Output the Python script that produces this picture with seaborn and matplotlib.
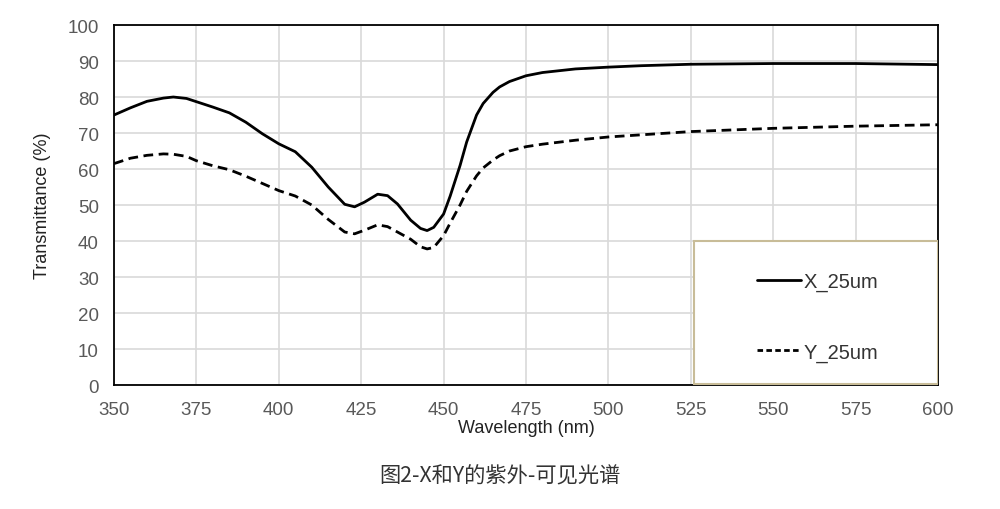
import pandas as pd
import matplotlib.pyplot as plt
import seaborn as sns
from matplotlib.patches import Rectangle

# wavelength (nm) and transmittance (%)
wl = [350, 355, 360, 365, 368, 372, 375, 380, 385, 390, 395, 400, 405, 410,
      415, 420, 423, 426, 430, 433, 436, 440, 443, 445, 447, 450, 452, 455,
      457, 460, 462, 465, 467, 470, 475, 480, 490, 500, 510, 525, 550, 575, 600]
x_25um = [75.0, 77.0, 78.8, 79.7, 80.0, 79.6, 78.7, 77.2, 75.6, 73.0, 69.8, 67.0,
          64.8, 60.5, 55.0, 50.2, 49.5, 50.8, 53.0, 52.6, 50.3, 45.8, 43.5, 42.9,
          43.8, 47.5, 52.5, 61.0, 67.5, 75.0, 78.2, 81.3, 82.8, 84.3, 85.9, 86.8,
          87.8, 88.3, 88.7, 89.1, 89.3, 89.3, 89.0]
y_25um = [61.5, 63.0, 63.8, 64.2, 64.1, 63.5, 62.3, 60.9, 59.8, 58.0, 56.0, 54.0,
          52.5, 50.0, 46.0, 42.5, 42.0, 43.0, 44.5, 44.0, 42.5, 40.5, 38.4, 37.8,
          38.2, 41.5, 45.0, 50.0, 53.8, 58.1, 60.3, 62.5, 63.7, 65.0, 66.2, 66.9,
          68.0, 68.9, 69.5, 70.4, 71.3, 71.9, 72.3]
series_names = ['X_25um', 'Y_25um']
x_ticks = list(range(350, 601, 25))
y_ticks = list(range(0, 101, 10))

df = pd.DataFrame({'Wavelength': wl * 2,
                   'T': x_25um + y_25um,
                   'Sample': [series_names[0]] * len(wl) + [series_names[1]] * len(wl)})

sns.set_theme(style='white')
plt.rcParams['font.family'] = ['Liberation Sans', 'DejaVu Sans']

fig = plt.figure(figsize=(10, 5.1), dpi=100)
ax = fig.add_axes([0.114, 0.2431, 0.824, 0.7059])

sns.lineplot(data=df, x='Wavelength', y='T', hue='Sample', style='Sample',
             palette=['black', 'black'], dashes={'X_25um': '', 'Y_25um': (3.5, 2)},
             linewidth=2.0, ax=ax, legend=False)

ax.set_xlim(350, 600)
ax.set_ylim(0, 100)
ax.set_xticks(x_ticks)
ax.set_yticks(y_ticks)
ax.grid(True, color='#d9d9d9', linewidth=1.2)
ax.tick_params(axis='both', length=0, labelsize=13.5, labelcolor='#595959')
ax.tick_params(axis='x', pad=11.5)
ax.tick_params(axis='y', pad=11)
for s in ax.spines.values():
    s.set_color('black')
    s.set_linewidth(1.3)

ax.set_xlabel('Wavelength (nm)', fontsize=13, color='#222222', labelpad=1)
ax.set_ylabel('Transmittance (%)', fontsize=13, color='#222222', labelpad=12)

# legend box
ax.add_patch(Rectangle((0.704, 0.003), 0.296, 0.397, transform=ax.transAxes,
                       facecolor='white', edgecolor='#c8bc98', linewidth=1.5, zorder=4))
handles = [plt.Line2D([], [], color='black', lw=2.0),
           plt.Line2D([], [], color='black', lw=2.0, ls=(0, (2, 1.2)))]
ax.legend(handles, series_names, loc='center', bbox_to_anchor=(0.854, 0.19),
          frameon=False, fontsize=14.5, handlelength=2.2, handletextpad=0.1,
          labelspacing=2.55, labelcolor='#333333').set_zorder(5)

fig.text(0.5, 1 - 476 / 510, '图2-X和Y的紫外-可见光谱', ha='center', va='center',
         fontsize=15.3, color='#333333', family=['Noto Sans CJK SC', 'DejaVu Sans'])

fig.savefig('out.png', dpi=100)
